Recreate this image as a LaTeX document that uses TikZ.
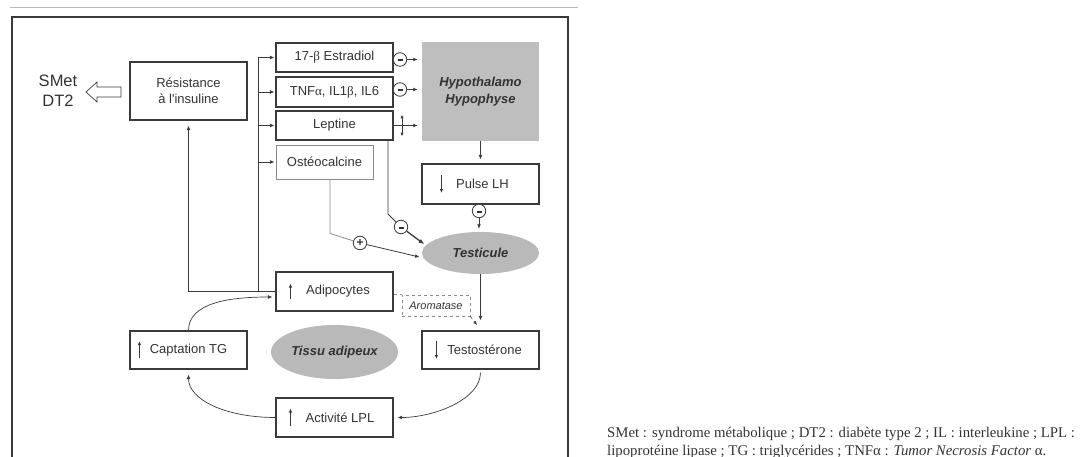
\documentclass[tikz,border=0pt]{standalone}
\usepackage{fontspec}
\setmainfont{Liberation Serif}
\setsansfont{Liberation Sans}
\usetikzlibrary{arrows.meta,shapes.geometric,calc}
\definecolor{boxc}{HTML}{3A3A3A}
\definecolor{txt}{HTML}{333333}
\definecolor{hypofill}{HTML}{BEBEBE}
\definecolor{ellfill}{HTML}{B9B9B9}
\definecolor{lightc}{HTML}{8A8A8A}
\newcommand{\minussign}{\rule[-3pt]{5pt}{1.6pt}}
\begin{document}
\begin{tikzpicture}[x=1pt,y=-1pt,
  box/.style={draw=boxc, line width=1.1pt, minimum width=117pt, inner sep=0pt,
    font=\sffamily\fontsize{13}{15.5}\selectfont, text=txt, align=center},
  ell/.style={ellipse, fill=ellfill, inner sep=0pt, font=\sffamily\bfseries\itshape\fontsize{13}{15.5}\selectfont, text=txt},
  conn/.style={draw=boxc, line width=0.8pt},
  arr/.style={conn, -{Latex[length=4.5pt,width=3.8pt]}},
  inarr/.style={draw=boxc, line width=0.9pt, -{Latex[length=4pt,width=3.4pt]}},
  sign/.style={circle, draw=boxc, line width=0.8pt, fill=white, minimum size=13.5pt, inner sep=0pt,
    font=\sffamily\bfseries\fontsize{12}{12}\selectfont, text=txt},
]
\useasboundingbox (0,0) rectangle (1083,457);
% frame
\draw[gray!55, line width=0.8pt] (10,7.5) -- (578,7.5);
\draw[boxc, line width=2pt] (11.5,480) -- (11.5,17.5) -- (568,17.5) -- (568,480);

% left block
\node[font=\sffamily\fontsize{16.5}{20}\selectfont, text=txt, align=center] (smet) at (58,91) {SMet\\DT2};
\draw[boxc, line width=0.7pt, fill=white] (121,87) -- (97,87) -- (97,82) -- (86,92) -- (97,102) -- (97,97) -- (121,97) -- cycle;
\node[box, minimum height=58pt] (res) at (188.5,91) {Résistance\\à l\textquotesingle insuline};

% top column
\node[box, minimum height=29pt] (estr) at (334.5,57.5) {17-{\rmfamily β} Estradiol};
\node[box, minimum height=30pt] (tnf) at (334.5,92) {TNF{\rmfamily α}, IL1{\rmfamily β}, IL6};
\node[box, minimum height=29pt] (lep) at (334.5,125.5) {Leptine};
\node[box, draw=lightc, line width=0.9pt, minimum width=97pt, minimum height=34pt] (osteo) at (324.5,162) {Ostéocalcine};

\node[fill=hypofill, minimum width=117pt, minimum height=99pt, inner sep=0pt, align=center,
  font=\sffamily\bfseries\itshape\fontsize{13}{16.5}\selectfont, text=txt] (hypo) at (480.5,91.5) {Hypothalamo\\Hypophyse};
\node[box, minimum height=40pt] (pulse) at (480.5,184) {\hspace*{4pt}Pulse LH};
\node[ell, minimum width=117pt, minimum height=42pt] (testi) at (480.5,253) {Testicule};

% bottom cycle
\node[box, minimum height=39pt] (adipo) at (334.5,291.5) {\hspace*{7pt}Adipocytes};
\node[draw=lightc, dashed, line width=0.6pt, minimum width=68pt, minimum height=21pt, inner sep=0pt,
  font=\sffamily\itshape\fontsize{11}{13}\selectfont, text=txt] (arom) at (436,305.5) {Aromatase};
\node[box, minimum height=38pt] (testo) at (480.5,350) {\hspace*{8pt}Testostérone};
\node[ell, minimum width=127pt, minimum height=54pt] (tissu) at (334.5,352) {Tissu adipeux};
\node[box, minimum height=38pt] (capt) at (188.5,350) {Captation TG};
\node[box, minimum height=39pt] (lpl) at (334.5,417.5) {\hspace*{11pt}Activité LPL};

% arrows inside boxes
\draw[inarr] ([xshift=15pt]adipo.west) ++(0,7) -- ++(0,-15);
\draw[inarr] ([xshift=10pt]capt.west) ++(0,8) -- ++(0,-17);
\draw[inarr] ([xshift=15pt]lpl.west) ++(0,8) -- ++(0,-17);
\draw[inarr] ([xshift=15pt]testo.west) ++(0,-9) -- ++(0,18);
\draw[inarr] ([xshift=20pt]pulse.west) ++(0,-9) -- ++(0,18);

% trunk and branches
\coordinate (tb) at (258,291.5);
\draw[conn] (adipo.west) -- (tb);
\draw[arr, shorten >=5pt] (adipo.west) -| (res.south);
\draw[arr, shorten >=1pt] (tb) |- (estr.west);
\draw[arr, shorten >=1pt] (tb) |- (tnf.west);
\draw[arr, shorten >=1pt] (tb) |- (lep.west);
\draw[arr, shorten >=1pt] (tb) |- (osteo.west);

% to hypothalamus
\node[sign] (m1) at (400,59.5) {\minussign};
\draw[arr, shorten >=4pt] (m1.east) -- (m1.east -| hypo.west);
\node[sign] (m2) at (400,89.5) {\minussign};
\draw[arr, shorten >=4pt] (m2.east) -- (m2.east -| hypo.west);
\draw[arr, shorten >=4pt] (lep.east) -- (lep.east -| hypo.west);
\coordinate (ud) at (402,125.5);
\draw[conn, {Latex[length=3.8pt,width=3.2pt]}-{Latex[length=3.8pt,width=3.2pt]}] ([yshift=11pt]ud) -- ([yshift=-11pt]ud);

\draw[arr, shorten >=4pt] (hypo.south) -- (pulse.north);
\node[sign] (m3) at (479,211) {\minussign};
\draw[arr, shorten >=3pt] (m3.south) -- (m3.south |- testi.north);

% leptine to testicule
\coordinate (lb) at (388,140);
\node[sign] (m4) at (401,227) {\minussign};
\draw[conn] (lb) -- (388,214) -- (m4);
\draw[conn, line width=1.3pt, -{Latex[length=5.5pt,width=4.5pt]}, shorten >=2pt] (m4) -- (testi.172);

% osteocalcine to testicule
\node[sign] (p1) at (360,243) {+};
\draw[draw=lightc, line width=0.8pt] ([xshift=5.5pt]osteo.south) -- ++(0,54) -- (p1);
\draw[arr, shorten >=4pt] (p1) -- (testi.185);

% testicule to testosterone
\draw[arr, shorten >=10pt] (testi.south) -- (testo.north);

% aromatase
\draw[draw=lightc, dashed, line width=0.6pt] (adipo.east |- arom.north) -- (arom.north west);
\coordinate (aromend) at (477,325);
\draw[draw=boxc, dashed, line width=0.6pt, -{Latex[length=3.8pt,width=3.2pt]}] (arom.south east) -- (aromend);

% cycle curves
\draw[arr, line width=0.7pt, shorten >=3pt] (capt.north) .. controls +(0,-28) and +(-45,0) .. ($(adipo.west)+(0,5.5)$);
\draw[arr, line width=0.7pt, shorten <=3pt, shorten >=4pt] (testo.south) .. controls +(0,30) and +(40,0) .. (lpl.east);
\draw[arr, line width=0.7pt, shorten >=5pt] (lpl.west) .. controls +(-50,0) and +(0,30) .. (capt.south);

% caption
\node[anchor=base west, inner sep=0pt, font=\rmfamily\fontsize{14.8}{18}\selectfont, text=txt] (cap1) at (607,437)
  {SMet : syndrome métabolique ; DT2 : diabète type 2 ; IL : interleukine ; LPL :};
\node[anchor=base west, inner sep=0pt, font=\rmfamily\fontsize{14.8}{18}\selectfont, text=txt] (cap2) at (607,455)
  {lipoprotéine lipase ; TG : triglycérides ; TNFα : \textit{Tumor Necrosis Factor} α.};
\end{tikzpicture}
\end{document}
